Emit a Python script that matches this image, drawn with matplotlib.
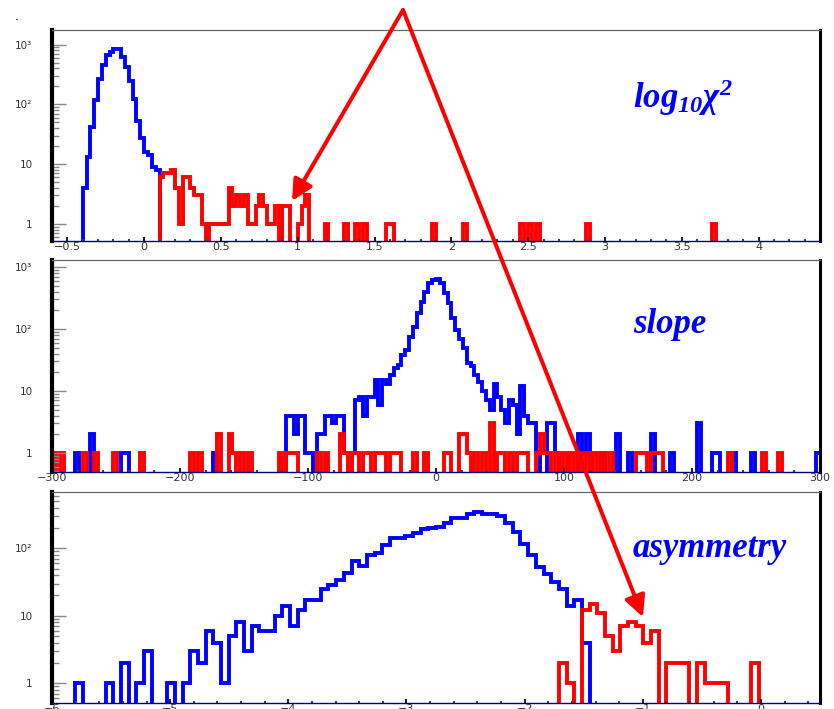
import numpy as np
import matplotlib
matplotlib.use("Agg")
import matplotlib.pyplot as plt
from matplotlib.patches import FancyArrowPatch
from matplotlib.ticker import LogLocator, MultipleLocator, FuncFormatter, NullFormatter

plt.rcParams['mathtext.fontset'] = 'custom'
plt.rcParams['mathtext.rm'] = 'Liberation Serif'
plt.rcParams['mathtext.it'] = 'Liberation Serif:italic'
plt.rcParams['mathtext.bf'] = 'Liberation Serif:bold'
plt.rcParams['mathtext.bfit'] = 'Liberation Serif:bold:italic'

# ---------------- data (bin index -> entries) ----------------
# log10(chi2): 200 bins in [-0.6, 4.4]
chi2_range = (-0.6, 4.4, 200)
chi2_blue_bins = list(range(8, 28))
chi2_blue_counts = [4, 13, 42, 120, 270, 450, 660, 760, 830, 830,
                    615, 420, 245, 125, 53, 27, 16, 14, 9, 8]
chi2_red_bins = [28, 29, 30, 31, 32, 33, 34, 35, 36, 37, 38, 39, 41, 42, 43, 44, 45,
                 46, 47, 48, 49, 50, 51, 52, 53, 54, 55, 56, 57, 58, 60, 61, 64, 65,
                 66, 71, 76, 79, 81, 87, 88, 99, 107, 122, 124, 126, 139, 172]
chi2_red_counts = [6, 7, 7, 8, 4, 1, 6, 6, 4, 3, 3, 1, 1, 1, 1, 1, 1,
                   4, 2, 3, 2, 3, 1, 1, 2, 3, 2, 1, 1, 2, 2, 2, 1, 2,
                   3, 1, 1, 1, 1, 1, 1, 1, 1, 1, 1, 1, 1, 1]

# slope: 200 bins in [-300, 300]
slope_range = (-300, 300, 200)
slope_blue_bins = [6, 10, 18, 19, 42, 61, 62, 63, 64, 65, 66, 67, 69, 70, 71, 72, 73, 74,
                   75, 76, 77, 78] + list(range(79, 127)) + \
                  [129, 130, 131, 137, 138, 139, 143, 147, 150, 156, 161, 168, 172,
                   173, 177, 182, 199]
slope_blue_counts = [1, 2, 1, 1, 1, 4, 4, 2, 4, 4, 1, 1, 2, 2, 4, 4, 3, 4,
                     4, 1, 1, 1] + \
                    [7, 8, 4, 8, 8, 15, 6, 15, 13, 18, 23, 26, 38, 46, 75, 109,
                     178, 275, 400, 550, 620, 640, 560, 380, 260, 148, 98, 70, 49,
                     28, 25, 18, 14, 10, 7, 5, 13, 8, 5, 3, 7, 6, 2, 12, 4, 3, 3, 1] + \
                    [3, 3, 1, 2, 1, 2, 1, 2, 1, 2, 1, 3, 1,
                     1, 1, 1, 1]
slope_red_bins = [0, 2, 8, 11, 16, 23, 36, 38, 43, 46, 47, 49, 51, 59, 61, 62, 63, 69,
                  71, 75, 76, 78, 79, 81, 82, 84, 85, 86, 88, 89, 90, 94, 97, 102,
                  103, 106, 107, 108, 110, 112, 114, 116, 117, 119, 121, 122, 123,
                  126, 127, 128, 129, 131, 133, 135, 137, 139, 141, 143, 145, 152,
                  153, 154, 156, 157, 158, 176, 185, 189]
slope_red_counts = [1, 1, 1, 1, 1, 1, 1, 1, 2, 2, 1, 1, 1, 1, 1, 1, 1, 1,
                    1, 2, 1, 1, 1, 1, 1, 1, 1, 1, 1, 1, 1, 1, 1, 1,
                    1, 2, 2, 1, 1, 1, 3, 1, 1, 1, 1, 1, 1,
                    1, 2, 1, 1, 1, 1, 1, 1, 1, 1, 1, 1, 1,
                    1, 1, 1, 1, 1, 1, 1, 1]

# asymmetry: 100 bins in [-6, 0.5]
asym_range = (-6, 0.5, 100)
asym_blue_bins = [3, 7, 9, 11, 12, 15, 17] + list(range(18, 70))
asym_blue_counts = [1, 1, 2, 1, 3, 1, 1,
                    3, 2, 6, 4, 1, 5, 8, 3, 7, 6, 6, 10, 14, 7, 12, 17, 17, 25,
                    29, 34, 43, 65, 54, 79, 85, 110, 142, 142, 150, 168, 190, 200,
                    208, 235, 284, 284, 326, 345, 326, 326, 297, 235, 175, 117,
                    79, 53, 42, 32, 25, 14, 17, 4]
asym_red_bins = [66, 67, 69, 70, 71, 72, 73, 74, 75, 76, 77, 78, 80, 81, 82, 84, 85,
                 86, 87, 91]
asym_red_counts = [2, 1, 12, 15, 11, 5, 3, 7, 8, 7, 4, 6, 2, 2, 2, 2, 1,
                   1, 1, 2]

BLUE = '#0000ff'
RED = '#ff0000'


def draw_hist(ax, rng, bins, counts, color):
    edges = np.linspace(rng[0], rng[1], rng[2] + 1)
    values = np.zeros(rng[2])
    values[bins] = counts
    values = np.where(values > 0, values, 0.05)  # empty bins drop below the floor
    ax.stairs(values, edges, baseline=None, color=color, lw=2.8)


def fmt_x(v, pos):
    return f'{v:g}'.replace('-', '\u2212')


def fmt_y(v, pos):
    return {1: '1', 10: '10', 100: '10\u00b2', 1000: '10\u00b3'}.get(int(round(v)), '')


def style_axes(ax, xlim, ylim, major, minor):
    ax.set_xlim(*xlim)
    ax.set_yscale('log')
    ax.set_ylim(*ylim)
    ax.xaxis.set_major_locator(MultipleLocator(major))
    ax.xaxis.set_minor_locator(MultipleLocator(minor))
    ax.xaxis.set_major_formatter(FuncFormatter(fmt_x))
    ax.yaxis.set_major_locator(LogLocator(base=10, numticks=10))
    ax.yaxis.set_minor_locator(LogLocator(base=10, subs=np.arange(2, 10), numticks=20))
    ax.yaxis.set_major_formatter(FuncFormatter(fmt_y))
    ax.yaxis.set_minor_formatter(NullFormatter())
    ax.tick_params(axis='y', which='major', direction='in', length=10, width=1,
                   color='#888888', labelsize=7.5, labelcolor='#333333', pad=14)
    ax.tick_params(axis='y', which='minor', direction='in', length=5, width=1,
                   color='#888888')
    ax.tick_params(axis='x', which='major', direction='in', length=3, width=1.5,
                   color='#222222', labelsize=8, labelcolor='#333333', pad=1)
    ax.tick_params(axis='x', which='minor', direction='in', length=1.5, width=1.5,
                   color='#444444')
    ax.spines['left'].set_linewidth(3)
    ax.spines['left'].set_color('black')
    ax.spines['right'].set_linewidth(2.2)
    ax.spines['right'].set_color('black')
    ax.spines['top'].set_linewidth(0.9)
    ax.spines['top'].set_color('#666666')
    ax.spines['bottom'].set_linewidth(1)
    ax.spines['bottom'].set_color('#000080')


W, H = 834, 709
fig = plt.figure(figsize=(W / 100, H / 100), dpi=100)


def px_axes(left, top, right, bottom):
    return fig.add_axes([left / W, 1 - bottom / H, (right - left) / W, (bottom - top) / H])


ax1 = px_axes(52, 30, 820, 241)
ax2 = px_axes(52, 260, 820, 472)
ax3 = px_axes(52, 492, 820, 703)

draw_hist(ax1, chi2_range, chi2_blue_bins, chi2_blue_counts, BLUE)
draw_hist(ax1, chi2_range, chi2_red_bins, chi2_red_counts, RED)
style_axes(ax1, (-0.6, 4.4), (0.52, 1750), 0.5, 0.1)

draw_hist(ax2, slope_range, slope_blue_bins, slope_blue_counts, BLUE)
draw_hist(ax2, slope_range, slope_red_bins, slope_red_counts, RED)
style_axes(ax2, (-300, 300), (0.49, 1300), 100, 20)

draw_hist(ax3, asym_range, asym_blue_bins, asym_blue_counts, BLUE)
draw_hist(ax3, asym_range, asym_red_bins, asym_red_counts, RED)
style_axes(ax3, (-6, 0.5), (0.51, 680), 1, 0.2)

label_kw = dict(color=BLUE, fontsize=25, va='baseline', ha='left',
                family='Liberation Serif', fontweight='bold', fontstyle='italic')
ax1.text(0.7565, 0.63, r'$\mathbfit{log_{10}\chi^{2}}$', transform=ax1.transAxes,
         color=BLUE, fontsize=25, va='baseline', ha='left')
ax2.text(0.7565, 0.656, 'slope', transform=ax2.transAxes, **label_kw)
ax3.text(0.7565, 0.692, 'asymmetry', transform=ax3.transAxes, **label_kw)

# red arrows from a common apex above the top panel
apex = (403 / W, 1 - 10 / H)
for tip in [(292 / W, 1 - 201 / H), (643 / W, 1 - 617 / H)]:
    arrow = FancyArrowPatch(apex, tip, transform=fig.transFigure,
                            arrowstyle='-|>,head_length=0.6,head_width=0.3',
                            mutation_scale=21, lw=2.9, color=RED,
                            shrinkA=0, shrinkB=0, zorder=10)
    fig.add_artist(arrow)

fig.text(15 / W, 1 - 20 / H, '.', fontsize=9, color='black')

fig.savefig('out.png', dpi=100)
